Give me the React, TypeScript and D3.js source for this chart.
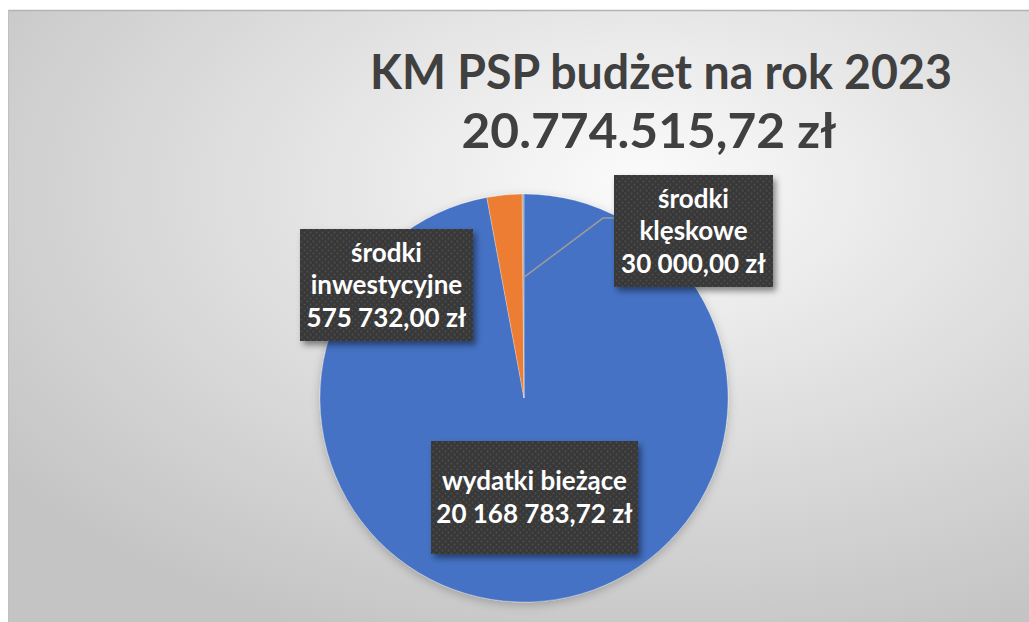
import React from "react";
import * as d3 from "d3";

// ---- data ----
const categories = ["wydatki bieżące", "środki inwestycyjne", "środki klęskowe"];
const values = [20168783.72, 575732.0, 30000.0];
const labelNames = [["wydatki bieżące"], ["środki", "inwestycyjne"], ["środki", "klęskowe"]];
const colors = ["#4472C4", "#ED7D31", "#A5A5A5"];
const titleLines = ["KM PSP budżet na rok 2023", "20.774.515,72 zł"];

// ---- layout ----
const W = 1029;
const H = 622;
const cx = 524;
const cy = 398;
const R = 204;
const boxes = [
  { x: 431, y: 441, w: 207, h: 113 },
  { x: 300, y: 229, w: 173, h: 112 },
  { x: 614, y: 175, w: 159, h: 112 },
];
const titleLayout = [
  { x: 661, y: 89, len: 582 },
  { x: 649, y: 148, len: 375 },
];

const locale = d3.formatLocale({
  decimal: ",",
  thousands: "\u00a0",
  grouping: [3],
  currency: ["", " zł"],
});
const fmt = locale.format(",.2f");

export default function App() {
  const pie = d3.pie<number>().sort(null).value((d) => d);
  const arcs = pie(values);
  const arc = d3.arc<d3.PieArcDatum<number>>().innerRadius(0).outerRadius(R);
  const innerPt = d3.arc<d3.PieArcDatum<number>>().innerRadius(R * 0.59).outerRadius(R * 0.59);

  // leader line for smallest slice (klęskowe)
  const small = arcs[2];
  const [lx, ly] = innerPt.centroid(small);
  const bx = boxes[2];
  const elbowY = bx.y + 43;
  const elbowX = bx.x - 11;

  return (
    <svg
      width={W}
      height={H}
      style={{ position: "absolute", left: 0, top: 0, display: "block" }}
      fontFamily="Lato, 'Open Sans', sans-serif"
    >
      <defs>
        <radialGradient id="bg" cx="0.62" cy="0.3" r="0.78" fx="0.62" fy="0.28">
          <stop offset="0" stopColor="#fbfbfb" />
          <stop offset="0.45" stopColor="#e2e2e2" />
          <stop offset="1" stopColor="#c4c4c4" />
        </radialGradient>
        <filter id="pieShadow" x="-20%" y="-20%" width="140%" height="140%">
          <feDropShadow dx="0" dy="3" stdDeviation="5" floodColor="#000" floodOpacity="0.22" />
        </filter>
        <filter id="boxShadow" x="-20%" y="-20%" width="150%" height="150%">
          <feDropShadow dx="3" dy="4" stdDeviation="3" floodColor="#000" floodOpacity="0.45" />
        </filter>
        <pattern id="dots" width="6" height="6" patternUnits="userSpaceOnUse">
          <rect width="6" height="6" fill="#383838" />
          <circle cx="1.5" cy="1.5" r="0.9" fill="#4d4d4d" />
          <circle cx="4.5" cy="4.5" r="0.9" fill="#4d4d4d" />
        </pattern>
      </defs>

      <rect x={0} y={0} width={W} height={H} fill="#ffffff" />
      <rect x={8} y={10} width={W - 8} height={H - 10} fill="url(#bg)" />
      <line x1={8} y1={10.5} x2={W} y2={10.5} stroke="#b4b4b4" strokeWidth={1.5} />
      <line x1={8.5} y1={10} x2={8.5} y2={H} stroke="#c0c0c0" strokeWidth={1} />

      {/* title */}
      {titleLines.map((t, i) => (
        <text
          key={i}
          x={titleLayout[i].x}
          y={titleLayout[i].y}
          textAnchor="middle"
          fontSize={47}
          fontWeight={700}
          fill="#404040"
          textLength={titleLayout[i].len}
          lengthAdjust="spacingAndGlyphs"
        >
          {t}
        </text>
      ))}

      {/* pie */}
      <g transform={`translate(${cx},${cy})`} filter="url(#pieShadow)">
        {arcs.map((a, i) => (
          <path key={categories[i]} d={arc(a) || ""} fill={colors[i]} stroke="#ffffff" strokeOpacity={0.35} strokeWidth={0.8} />
        ))}
      </g>

      {/* leader line */}
      <polyline
        points={`${cx + lx},${cy + ly} ${elbowX},${elbowY} ${bx.x},${elbowY}`}
        fill="none"
        stroke="#9a9a9a"
        strokeWidth={1.6}
      />

      {/* labels */}
      {arcs.map((a, i) => {
        const b = boxes[i];
        const lines = [...labelNames[i], fmt(values[i]) + " zł"];
        const lh = 32.5;
        const mid = b.y + b.h / 2;
        const first = mid - ((lines.length - 1) * lh) / 2 + 9;
        return (
          <g key={"lab" + i}>
            <rect x={b.x} y={b.y} width={b.w} height={b.h} fill="url(#dots)" filter="url(#boxShadow)" />
            {lines.map((ln, j) => (
              <text
                key={j}
                x={b.x + b.w / 2}
                y={first + j * lh}
                textAnchor="middle"
                fontSize={26}
                fontWeight={700}
                fill="#ffffff"
              >
                {ln}
              </text>
            ))}
          </g>
        );
      })}
    </svg>
  );
}
